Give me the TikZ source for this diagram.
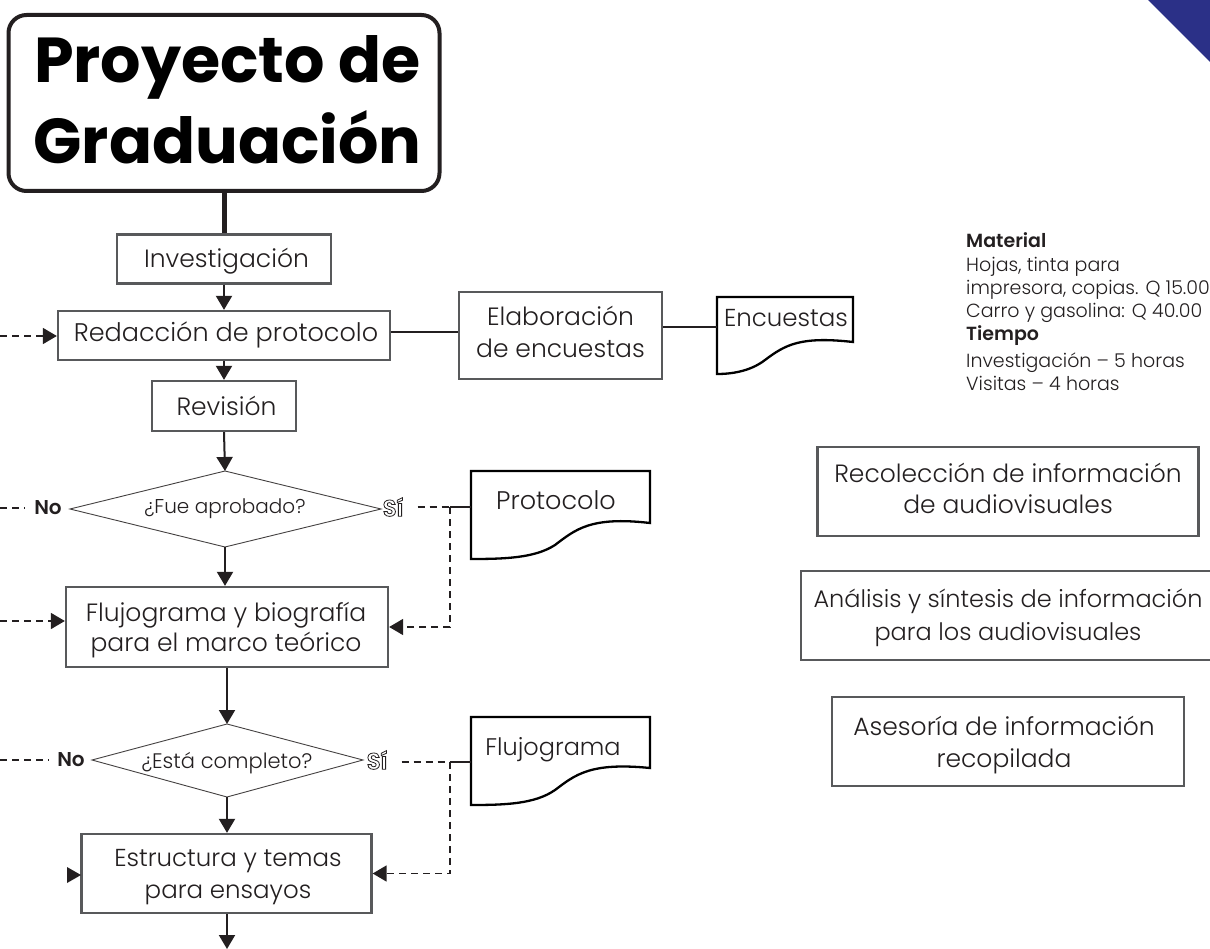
\documentclass[tikz,border=0pt]{standalone}
\usepackage{fontspec}
\setmainfont{Poppins}[UprightFont=* Light,BoldFont=* SemiBold]
\newfontfamily\titlefont{Poppins}[UprightFont=* Bold]
\usetikzlibrary{arrows.meta}
\definecolor{ink}{HTML}{231F20}
\definecolor{boxgray}{HTML}{58595B}
\definecolor{navy}{HTML}{2B3087}
\newcommand{\outl}[1]{{\special{pdf:code 1 Tr 0.8 w}\fontsize{23}{25}\selectfont\bfseries #1\special{pdf:code 0 Tr}}}
% \bt{2*dx}{raise}{text}: text placed with its first baseline at a set height from the node centre
\newcommand{\bt}[3]{\makebox[0pt]{\hspace*{#1}\smash{\raisebox{#2}{\begin{tabular}[t]{@{}c@{}}#3\end{tabular}}}}}
\tikzset{
  x=1pt,y=-1pt,
  every node/.style={inner sep=0pt,text=ink},
  pbox/.style={draw=boxgray,line width=2.3pt,fill=white,font=\fontsize{25}{32}\selectfont},
  dia/.style={draw=ink!85,line width=.9pt,fill=white},
  docshape/.style={draw=black,line width=2.3pt,fill=white},
  flow/.style={draw=ink,line width=2pt,-{Triangle[length=14pt,width=16pt]}},
  plain/.style={draw=ink,line width=2pt},
  dashline/.style={draw=ink,line width=1.7pt,dash pattern=on 7pt off 5pt},
  dasharrow/.style={dashline,-{Triangle[length=14pt,width=16pt]}},
  yn/.style={font=\fontsize{20}{24}\selectfont\bfseries},
  doctext/.style={anchor=base,font=\fontsize{25.5}{30}\selectfont},
}
\begin{document}
\begin{tikzpicture}
\useasboundingbox (0,0) rectangle (1210,949);
\fill[navy] (1148,0) -- (1210,0) -- (1210,62) -- cycle;

% title
\node[draw=ink,line width=4pt,rounded corners=18pt,minimum width=431pt,minimum height=176pt,font=\titlefont\fontsize{63.5}{81}\selectfont] (title) at (224,103) {\color{black}\bt{7pt}{20pt}{Proyecto de\\Graduación}};

% main boxes
\node[pbox,minimum width=214pt,minimum height=49pt] (inv) at (224,259) {\bt{5pt}{-8.5pt}{Investigación}};
\node[pbox,minimum width=332pt,minimum height=49pt,font=\fontsize{25.5}{32}\selectfont] (red) at (224,335.5) {\bt{4pt}{-6.5pt}{Redacción de protocolo}};
\node[pbox,minimum width=144pt,minimum height=50pt] (rev) at (224,406) {\bt{5pt}{-10pt}{Revisión}};
\node[pbox,minimum width=203pt,minimum height=87pt] (ela) at (560.5,335.5) {\bt{0pt}{9.5pt}{Elaboración\\de encuestas}};
\node[pbox,minimum width=322pt,minimum height=80pt,font=\fontsize{25}{30.5}\selectfont] (flu) at (227,627) {\bt{-2pt}{6pt}{Flujograma y biografía\\para el marco teórico}};
\node[pbox,minimum width=290pt,minimum height=79pt,font=\fontsize{24.5}{32}\selectfont] (est) at (226.5,873.5) {\bt{3pt}{7.5pt}{Estructura y temas\\para ensayos}};
\node[pbox,minimum width=381pt,minimum height=89pt,font=\fontsize{25}{31}\selectfont] (rec) at (1008,491.5) {\bt{0pt}{9.5pt}{Recolección de información\\de audiovisuales}};
\node[pbox,minimum width=414pt,minimum height=89pt,font=\fontsize{24}{33}\selectfont] (ana) at (1008,615.5) {\bt{0pt}{8.5pt}{Análisis y síntesis de información\\para los audiovisuales}};
\node[pbox,minimum width=352pt,minimum height=89pt] (ase) at (1008,741.5) {\bt{-8pt}{6.5pt}{Asesoría de información\\recopilada}};

% diamonds
\draw[dia] (70,509) coordinate (d1w) -- (225,471) coordinate (d1n) -- (381,509) coordinate (d1e) -- (225,547) coordinate (d1s) -- cycle;
\node[font=\fontsize{20}{24}\selectfont] (d1t) at (225,509) {¿Fue aprobado?};
\draw[dia] (92,760) coordinate (d2w) -- (227,724) coordinate (d2n) -- (363,760) coordinate (d2e) -- (227,797) coordinate (d2s) -- cycle;
\node[font=\fontsize{21}{25}\selectfont] (d2t) at (227,763) {¿Está completo?};

% document shapes
\draw[docshape] (717,297) -- (853,297) -- (853,342) .. controls (800,336) and (785,345) .. (765,360) .. controls (752,370) and (735,374) .. (717,374) -- cycle;
\node[doctext,font=\fontsize{24.5}{30}\selectfont] (enc) at (786,327) {Encuestas};
\coordinate (encw) at (717,327);
\draw[docshape] (471,471) -- (650,471) -- (650,523) .. controls (590,516) and (575,530) .. (555,545) .. controls (535,558) and (505,559) .. (471,559) -- cycle;
\node[doctext] (pro) at (556,509) {Protocolo};
\coordinate (prow) at (471,507);
\draw[docshape] (471,717) -- (650,717) -- (650,768) .. controls (590,762) and (575,775) .. (555,790) .. controls (535,804) and (505,805) .. (471,805) -- cycle;
\node[doctext,font=\fontsize{24}{30}\selectfont] (fgr) at (553,755) {Flujograma};
\coordinate (fgrw) at (471,762);

% labels
\node[yn] (no1) at (48,508) {No};
\node[yn] (si1) at (393,507) {\outl{Sí}};
\node[yn] (no2) at (71,760) {No};
\node[yn] (si2) at (377,760) {\outl{Sí}};

% solid connectors
\draw[line width=5pt,draw=ink] (title.south) -- (inv.north -| title.south);
\draw[flow] (inv.south) -- (red.north);
\draw[flow] (red.south) -- (rev.north);
\draw[flow] (rev.south) -- (d1n);
\draw[flow] (d1s) -- (flu.north -| d1s);
\draw[flow] (d2n |- flu.south) -- (d2n);
\draw[flow] (d2s) -- (est.north -| d2s);
\coordinate (endarrow) at (227,949);
\draw[flow] (endarrow |- est.south) -- (endarrow);
\coordinate (redj) at (459,332);
\draw[plain] (red.east |- redj) -- (ela.west |- redj);
\draw[plain] (ela.east |- encw) -- (encw);

% dashed connectors
\coordinate (j1) at (450,507);
\coordinate (j2) at (450,762);
\coordinate (l1) at (0,336);
\coordinate (l2) at (0,508);
\coordinate (l3) at (0,621);
\coordinate (l4) at (0,760);
\draw[plain] (j1) -- (prow);
\draw[plain] (j2) -- (fgrw);
\draw[dashline] ([xshift=14pt]si1.east) -- (j1);
\draw[dashline] ([xshift=14pt]si2.east |- j2) -- (j2);
\draw[dasharrow] (j1) -- (j1 |- flu.east) -- (flu.east);
\draw[dasharrow] (j2) -- (j2 |- est.east) -- (est.east);
\draw[dasharrow] (l1) -- (red.west |- l1);
\draw[dashline] (l2) -- ([xshift=-10pt]no1.west);
\draw[dasharrow] (l3) -- (flu.west |- l3);
\draw[dashline] (l4) -- ([xshift=-9pt]no2.west);
\fill[ink] (67,867) -- (81,875) -- (67,883) -- cycle;

% notes
\node[anchor=base west,font=\fontsize{19}{23.2}\selectfont] (notes) at (966,248) {\begin{tabular}[t]{@{}l@{}}\textbf{Material}\\Hojas, tinta para\\impresora, copias. Q 15.00\\Carro y gasolina: Q 40.00\\\textbf{Tiempo}\\[3.4pt]Investigación – 5 horas\\Visitas – 4 horas\end{tabular}};
\end{tikzpicture}
\end{document}
